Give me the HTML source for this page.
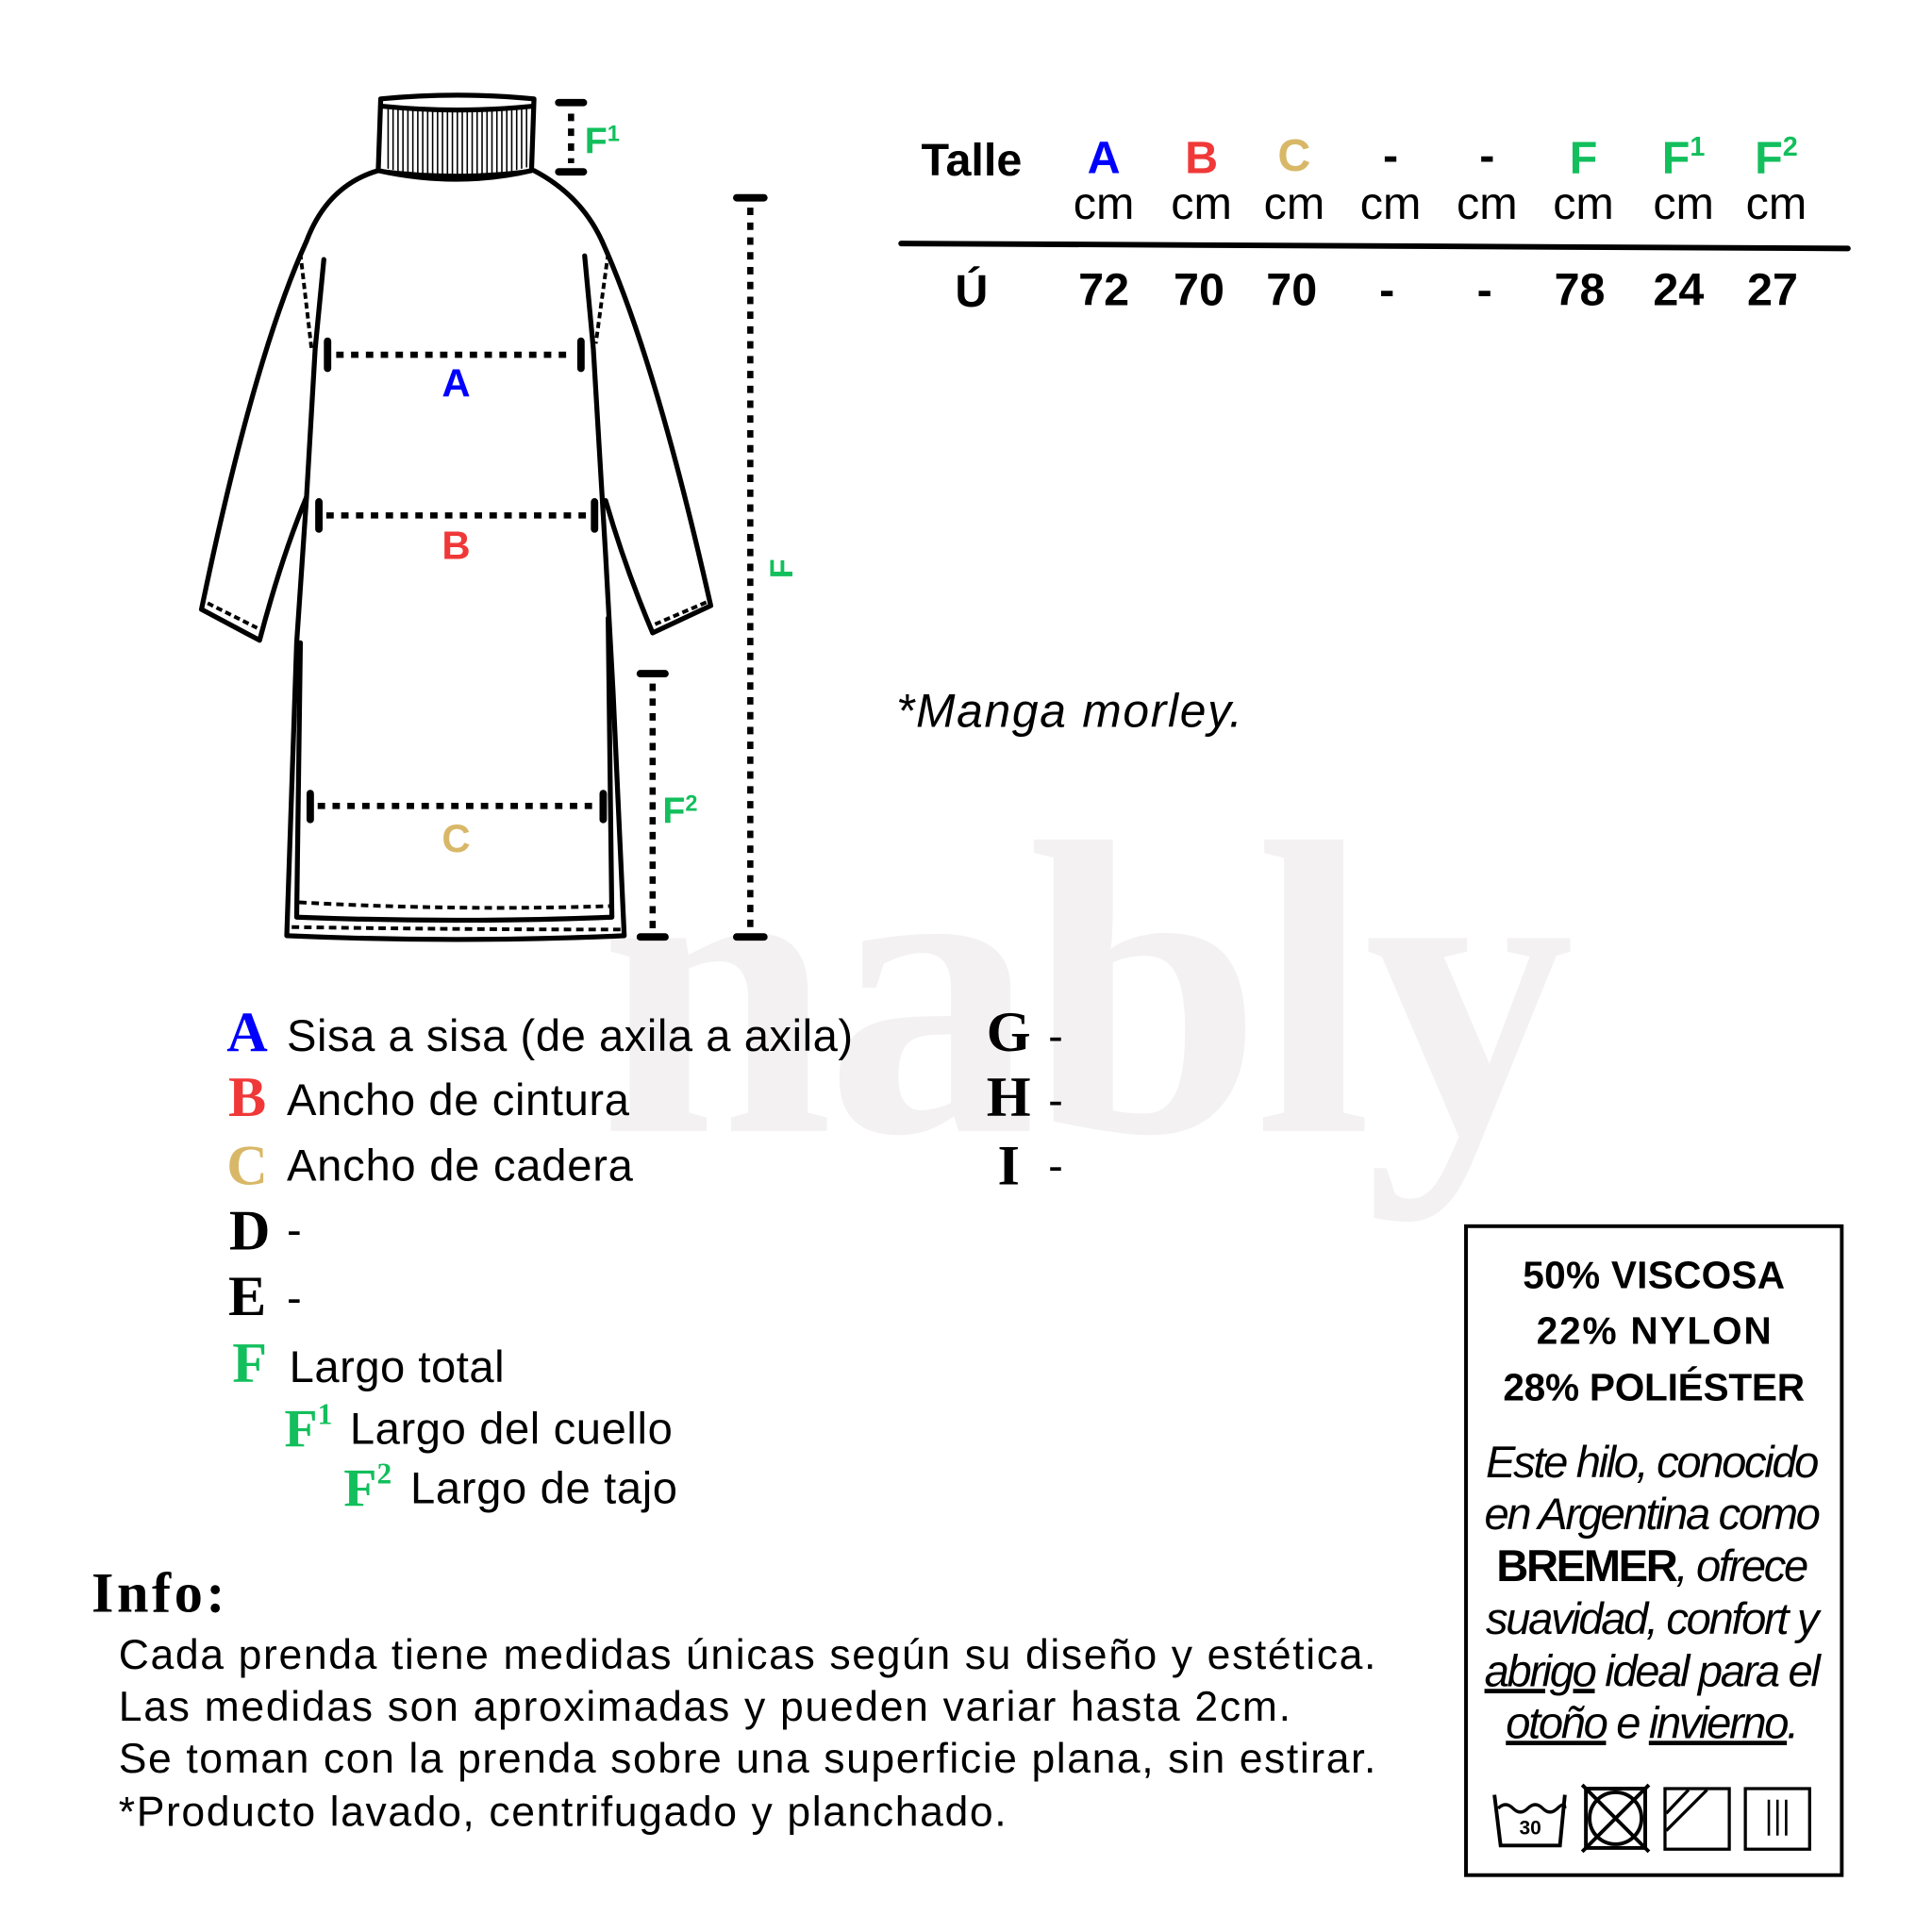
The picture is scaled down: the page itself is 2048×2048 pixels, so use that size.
<!DOCTYPE html>
<html><head><meta charset="utf-8"><style>
html,body{margin:0;padding:0;background:#fff}
svg{display:block}
</style></head><body>
<svg width="2048" height="2048" viewBox="0 0 1563 1563" xmlns="http://www.w3.org/2000/svg" font-family="Liberation Sans, sans-serif">
<rect width="1563" height="1563" fill="#fff"/>
<!-- watermark -->
<text x="485" y="915" font-family="Liberation Serif, serif" font-weight="bold" font-size="340" fill="#f3f1f1" letter-spacing="-6">nably</text>

<g fill="none" stroke="#000" stroke-width="4" stroke-linejoin="round" stroke-linecap="round">
<path d="M308 80 Q370 74 432 80 L430 138 Q370 152 306 138 Z" fill="#fff"/>
<g stroke-width="1.2">
<path d="M314 88V136M318 88V137M322 88V138M326 88V139M330 88V140M334 88V140M338 88V141M342 88V141M346 88V142M350 88V142M354 88V142M358 88V142M362 88V143M366 88V143M370 88V143M374 88V143M378 88V143M382 88V142M386 88V142M390 88V142M394 88V141M398 88V141M402 88V140M406 88V140M410 88V139M414 88V138M418 88V137M422 88V136M426 88V135"/>
</g>
<path d="M310 86 Q370 92 430 86"/>
<path d="M306 138 Q370 146 430 138" stroke-width="3"/>
<path d="M306 138 Q265 150 248 195"/>
<path d="M432 138 Q470 158 487 195"/>
<path d="M248 195 Q205 290 163 493 L210 518 Q228 450 248 402"/>
<path d="M168 488 L208 508" stroke-dasharray="5 3" stroke-width="3" stroke-linecap="butt"/>
<path d="M243 205 L252 282" stroke-dasharray="5 3" stroke-width="3" stroke-linecap="butt"/>
<path d="M487 195 Q530 290 575 490 L528 512 Q506 460 490 405"/>
<path d="M530 505 L572 487" stroke-dasharray="5 3" stroke-width="3" stroke-linecap="butt"/>
<path d="M492 205 L482 278" stroke-dasharray="5 3" stroke-width="3" stroke-linecap="butt"/>
<path d="M262 210 L255 282 L248 402 L240 520 L232 757 Q370 763 505 757 L496 560 L490 450 L480 282 L473 207"/>
<path d="M243 520 L240 742 Q370 747 495 742 L492 500"/>
<path d="M242 730 Q370 737 494 733" stroke-dasharray="6 4" stroke-width="3" stroke-linecap="butt"/>
<path d="M236 750 Q370 752 502 752" stroke-dasharray="6 4" stroke-width="3" stroke-linecap="butt"/>
</g>

<g stroke="#000" fill="none">
<g stroke-width="5" stroke-dasharray="6 6" stroke-linecap="butt">
<path d="M272 287H464"/><path d="M264 417H476"/><path d="M257 652H482"/>
<path d="M607 168V752"/><path d="M528 553V752"/><path d="M462 92V132"/>
</g>
<g stroke-width="6" stroke-linecap="round">
<path d="M265 276V298M470 276V298M258 406V428M481 406V428M251 642V663M488 642V663"/>
<path d="M596 160H618M596 758H618M518 545H538M518 758H538M452 83H472M452 139H472"/>
</g>
</g>
<g font-weight="bold">
<text x="369" y="321" font-size="32" fill="#0000ff" text-anchor="middle">A</text>
<text x="369" y="452" font-size="32" fill="#f03838" text-anchor="middle">B</text>
<text x="369" y="689" font-size="32" fill="#d8b868" text-anchor="middle">C</text>
<text x="473" y="124" font-size="30" fill="#12bf5c">F<tspan font-size="18" dy="-10">1</tspan></text>
<text x="536" y="666" font-size="30" fill="#12bf5c">F<tspan font-size="18" dy="-10">2</tspan></text>
<text transform="translate(641,460) rotate(-90)" font-size="26" fill="#12bf5c" text-anchor="middle">F</text>
</g>

<g font-size="37" text-anchor="middle">
<g font-weight="bold">
<text x="786" y="142">Talle</text>
<text x="893" y="140" fill="#0000ff">A</text>
<text x="972" y="140" fill="#f03838">B</text>
<text x="1047" y="138" fill="#d8b868">C</text>
<text x="1125" y="138">-</text>
<text x="1203" y="138">-</text>
<text x="1281" y="140" fill="#12bf5c">F</text>
<text x="1362" y="140" fill="#12bf5c">F<tspan font-size="22" dy="-14">1</tspan></text>
<text x="1437" y="140" fill="#12bf5c">F<tspan font-size="22" dy="-14">2</tspan></text>
</g>
<g>
<text x="893" y="177">cm</text><text x="972" y="177">cm</text><text x="1047" y="177">cm</text>
<text x="1125" y="177">cm</text><text x="1203" y="177">cm</text><text x="1281" y="177">cm</text>
<text x="1362" y="177">cm</text><text x="1437" y="177">cm</text>
</g>
<g font-weight="bold">
<text x="786" y="248">Ú</text><text x="893" y="247">72</text><text x="970" y="247">70</text><text x="1045" y="247">70</text>
<text x="1122" y="247">-</text><text x="1201" y="247">-</text><text x="1278" y="247">78</text><text x="1358" y="247">24</text><text x="1434" y="247">27</text>
</g>
</g>
<path d="M729 197 L1495 201" stroke="#000" stroke-width="4.5" stroke-linecap="round"/>

<text x="725" y="588" font-size="38" font-style="italic" textLength="280">*Manga morley.</text>

<g font-family="Liberation Serif, serif" font-weight="bold" font-size="46" text-anchor="middle">
<text x="200" y="850" fill="#0000ff">A</text>
<text x="200" y="903" fill="#f03838">B</text>
<text x="200" y="958" fill="#d8b868">C</text>
<text x="202" y="1011">D</text>
<text x="200" y="1064">E</text>
<text x="202" y="1118" fill="#12bf5c">F</text>
<text x="816" y="850">G</text>
<text x="816" y="903">H</text>
<text x="816" y="958">I</text>
</g>
<g font-family="Liberation Serif, serif" font-weight="bold" font-size="44" fill="#12bf5c">
<text x="230" y="1170">F<tspan font-size="24" dy="-18">1</tspan></text>
<text x="278" y="1218">F<tspan font-size="24" dy="-18">2</tspan></text>
</g>
<g font-size="36">
<text x="232" y="850" textLength="458">Sisa a sisa (de axila a axila)</text>
<text x="232" y="902" textLength="277">Ancho de cintura</text>
<text x="232" y="955" textLength="280">Ancho de cadera</text>
<text x="232" y="1007">-</text>
<text x="232" y="1062">-</text>
<text x="234" y="1118" textLength="174">Largo total</text>
<text x="283" y="1168" textLength="261">Largo del cuello</text>
<text x="332" y="1216" textLength="216">Largo de tajo</text>
<text x="848" y="850">-</text>
<text x="848" y="902">-</text>
<text x="848" y="955">-</text>
</g>

<text x="74" y="1304" font-family="Liberation Serif, serif" font-weight="bold" font-size="46" textLength="108">Info:</text>
<g font-size="34">
<text x="96" y="1350" textLength="1017">Cada prenda tiene medidas únicas según su diseño y estética.</text>
<text x="96" y="1392" textLength="948">Las medidas son aproximadas y pueden variar hasta 2cm.</text>
<text x="96" y="1434" textLength="1017">Se toman con la prenda sobre una superficie plana, sin estirar.</text>
<text x="96" y="1477" textLength="718">*Producto lavado, centrifugado y planchado.</text>
</g>

<rect x="1186" y="992" width="304" height="525" fill="none" stroke="#000" stroke-width="3"/>
<g font-weight="bold" font-size="31" text-anchor="middle">
<text x="1338" y="1042" textLength="212">50% VISCOSA</text>
<text x="1338" y="1087" textLength="190">22% NYLON</text>
<text x="1338" y="1133" textLength="244">28% POLIÉSTER</text>
</g>
<g font-size="36" font-style="italic" text-anchor="middle" letter-spacing="-1.8">
<text x="1336" y="1195">Este hilo, conocido</text>
<text x="1336" y="1237">en Argentina como</text>
<text x="1336" y="1279"><tspan font-weight="bold" font-style="normal">BREMER</tspan>, ofrece</text>
<text x="1336" y="1322">suavidad, confort y</text>
<text x="1336" y="1364"><tspan text-decoration="underline">abrigo</tspan> ideal para el</text>
<text x="1336" y="1406"><tspan text-decoration="underline">otoño</tspan> e <tspan text-decoration="underline">invierno</tspan>.</text>
</g>
<g fill="none" stroke="#000">
<path d="M1209 1452 L1214 1493 L1262 1493 L1266 1452" stroke-width="3"/>
<path d="M1212 1463 q6 -6 12 0 t12 0 t12 0 t12 0 t6 0" stroke-width="2.5"/>
<rect x="1283" y="1447" width="48" height="48" stroke-width="3"/>
<circle cx="1307" cy="1471" r="21" stroke-width="3"/>
<path d="M1280 1444 L1334 1498 M1334 1444 L1280 1498" stroke-width="3"/>
<rect x="1347" y="1447" width="52" height="49" stroke-width="2.5"/>
<path d="M1348 1467 L1366 1448 M1348 1481 L1381 1448" stroke-width="2.5"/>
<rect x="1412" y="1447" width="52" height="49" stroke-width="2.5"/>
<path d="M1431 1456V1485M1438 1456V1485M1445 1456V1485" stroke-width="2"/>
</g>
<text x="1238" y="1484" font-size="16" font-weight="bold" text-anchor="middle">30</text>
</svg>
</body></html>
